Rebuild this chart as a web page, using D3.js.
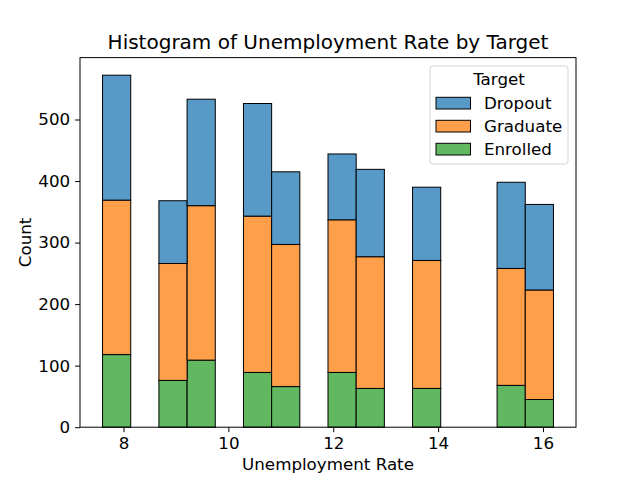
<!DOCTYPE html>
<html>
<head>
<meta charset="utf-8">
<script src="https://cdn.jsdelivr.net/npm/d3@7"></script>
<style>
  body { margin: 0; background: #fff; }
  svg { font-family: "DejaVu Sans", sans-serif; }
</style>
</head>
<body>
<svg id="chart" width="640" height="480"></svg>
<script>
// unemployment rates present in the data, with counts per target
const rates = [7.6, 8.9, 9.4, 10.8, 11.1, 12.4, 12.7, 13.9, 15.5, 16.2];
const dropout = [203, 102, 173, 183, 118, 107, 142, 119, 140, 139];
const graduate = [251, 190, 251, 254, 231, 248, 214, 208, 190, 178];
const enrolled = [118, 76, 109, 89, 66, 89, 63, 63, 68, 45];
const targets = ['Dropout', 'Graduate', 'Enrolled'];
const colors = ['#5799c7', '#ff9f4a', '#61b861'];
const xTicks = [8, 10, 12, 14, 16];
const yTicks = [0, 100, 200, 300, 400, 500];
const binCount = 16;

const svg = d3.select('#chart');
const plotL = 80, plotR = 576, plotT = 57.6, plotB = 427.2;
const fontMain = 16.7;

// bin edges evenly spaced over the data range
const lo = d3.min(rates), hi = d3.max(rates);
const binW = (hi - lo) / binCount;
const edges = d3.range(binCount + 1).map(i => lo + i * binW);

// sum each target into its bin
const seriesVals = [dropout, graduate, enrolled];
const bins = d3.range(binCount).map(i => ({ x0: edges[i], x1: edges[i + 1], Dropout: 0, Graduate: 0, Enrolled: 0 }));
rates.forEach((r, j) => {
    let b = Math.floor((r - lo) / binW + 1e-9);
    if (b >= binCount) b = binCount - 1;
    targets.forEach((t, k) => { bins[b][t] += seriesVals[k][j]; });
});

// stack: Enrolled at bottom, then Graduate, then Dropout on top
const stacked = d3.stack().keys(['Enrolled', 'Graduate', 'Dropout'])(bins);
const maxTotal = d3.max(bins, d => d.Dropout + d.Graduate + d.Enrolled);

const pad = (hi - lo) * 0.05;
const x = d3.scaleLinear().domain([lo - pad, hi + pad]).range([plotL, plotR]);
const y = d3.scaleLinear().domain([0, maxTotal * 1.05]).range([plotB, plotT]);

const colorOf = d3.scaleOrdinal().domain(targets).range(colors);

svg.append('g').selectAll('g')
    .data(stacked)
    .join('g')
    .attr('fill', d => colorOf(d.key))
    .selectAll('rect')
    .data(d => d)
    .join('rect')
    .attr('x', d => x(d.data.x0))
    .attr('width', d => x(d.data.x1) - x(d.data.x0))
    .attr('y', d => y(d[1]))
    .attr('height', d => y(d[0]) - y(d[1]))
    .attr('stroke', '#000')
    .attr('stroke-width', 1);

// axes
const xAxis = svg.append('g')
    .attr('transform', `translate(0,${plotB})`)
    .call(d3.axisBottom(x).tickValues(xTicks).tickSize(4.9).tickPadding(4.9));
const yAxis = svg.append('g')
    .attr('transform', `translate(${plotL},0)`)
    .call(d3.axisLeft(y).tickValues(yTicks).tickSize(4.9).tickPadding(4.9));
[xAxis, yAxis].forEach(a => {
    a.select('.domain').remove();
    a.selectAll('text').attr('font-size', fontMain).attr('fill', '#000').attr('font-family', '"DejaVu Sans", sans-serif');
    a.selectAll('line').attr('stroke', '#000').attr('stroke-width', 1);
});

svg.append('rect')
    .attr('x', plotL).attr('y', plotT)
    .attr('width', plotR - plotL).attr('height', plotB - plotT)
    .attr('fill', 'none').attr('stroke', '#000').attr('stroke-width', 1);

// titles
svg.append('text')
    .attr('x', (plotL + plotR) / 2).attr('y', 49.3)
    .attr('text-anchor', 'middle').attr('font-size', 20)
    .text('Histogram of Unemployment Rate by Target');
svg.append('text')
    .attr('x', (plotL + plotR) / 2).attr('y', 470)
    .attr('text-anchor', 'middle').attr('font-size', fontMain)
    .text('Unemployment Rate');
svg.append('text')
    .attr('transform', `translate(31,${(plotT + plotB) / 2}) rotate(-90)`)
    .attr('text-anchor', 'middle').attr('font-size', fontMain)
    .text('Count');

// legend
const lg = svg.append('g').attr('transform', 'translate(430,66)');
lg.append('rect')
    .attr('width', 138).attr('height', 98).attr('rx', 3)
    .attr('fill', '#fff').attr('fill-opacity', 0.8)
    .attr('stroke', '#d5d5d5').attr('stroke-width', 1);
lg.append('text')
    .attr('x', 69).attr('y', 19)
    .attr('text-anchor', 'middle').attr('font-size', fontMain)
    .text('Target');
targets.forEach((t, i) => {
    const row = lg.append('g').attr('transform', `translate(6,${31.3 + i * 23})`);
    row.append('rect')
        .attr('width', 34.5).attr('height', 11.7)
        .attr('fill', colorOf(t)).attr('stroke', '#000').attr('stroke-width', 1);
    row.append('text')
        .attr('x', 48).attr('y', 11.5)
        .attr('font-size', fontMain)
        .text(t);
});
</script>
</body>
</html>
